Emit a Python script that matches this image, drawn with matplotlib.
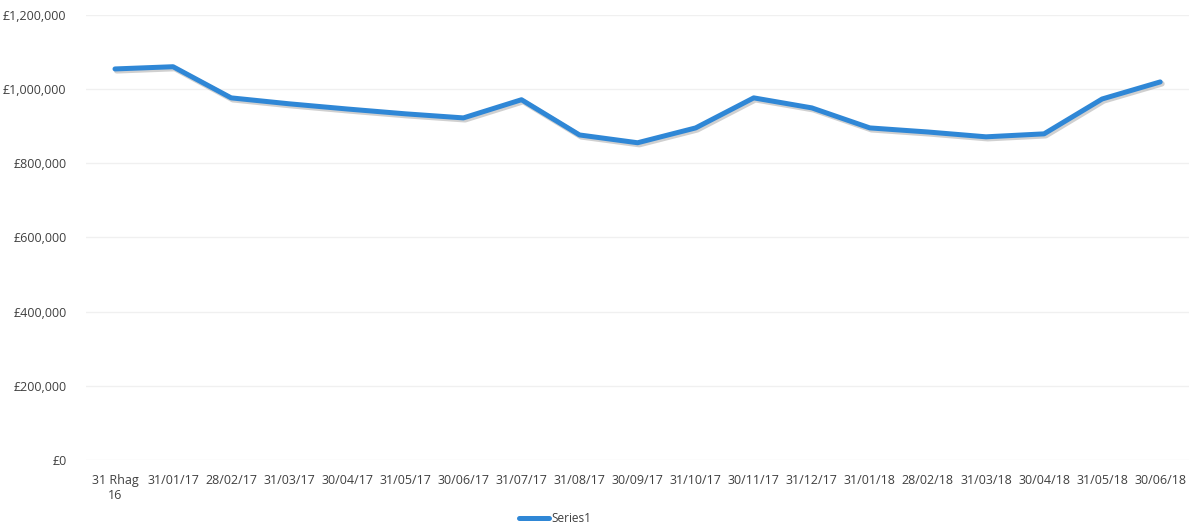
import matplotlib
matplotlib.use("Agg")
import matplotlib.pyplot as plt
import numpy as np
from matplotlib.ticker import FuncFormatter

# Data
labels = ["31 Rhag\n16", "31/01/17", "28/02/17", "31/03/17", "30/04/17", "31/05/17",
          "30/06/17", "31/07/17", "31/08/17", "30/09/17", "31/10/17", "30/11/17",
          "31/12/17", "31/01/18", "28/02/18", "31/03/18", "30/04/18", "31/05/18",
          "30/06/18"]
values = [1054000, 1060000, 976000, 960000, 946000, 933000, 922000, 971000, 876000,
          855000, 895000, 976000, 949000, 895000, 884000, 871000, 879000, 973000,
          1019000]

plt.rcParams["font.family"] = ["Open Sans", "DejaVu Sans"]
text_col = "#404040"

fig = plt.figure(figsize=(11.94, 5.28), dpi=100)
ax = fig.add_axes([0.072, 0.129, 0.924, 0.843])

x = np.arange(len(values))
# faint shadow under the line, like the scanned Excel chart
ax.plot(x + 0.03, np.array(values) - 5000, color="#8a8a8a", lw=4, alpha=0.4,
        solid_capstyle="round", zorder=2)
line, = ax.plot(x, values, color="#2f87d6", lw=3.6, solid_capstyle="round",
                solid_joinstyle="round", zorder=3, label="Series1")

ax.set_xlim(-0.5, len(values) - 0.5)
ax.set_ylim(0, 1200000)
ax.set_yticks(np.arange(0, 1200001, 200000))
ax.yaxis.set_major_formatter(FuncFormatter(lambda v, p: "£{:,.0f}".format(v)))
ax.set_xticks(x)
ax.set_xticklabels(labels)

ax.grid(axis="y", color="#f0f0f0", lw=1)
ax.set_axisbelow(True)
for s in ax.spines.values():
    s.set_visible(False)
ax.tick_params(length=0, labelsize=9, colors=text_col, pad=10)
ax.tick_params(axis="y", pad=14)

fig.legend(handles=[line], loc="center", bbox_to_anchor=(0.465, 0.018),
           frameon=False, fontsize=8.5, handlelength=2.5, handletextpad=0.2,
           labelcolor=text_col)

fig.savefig("out.png", dpi=100)
